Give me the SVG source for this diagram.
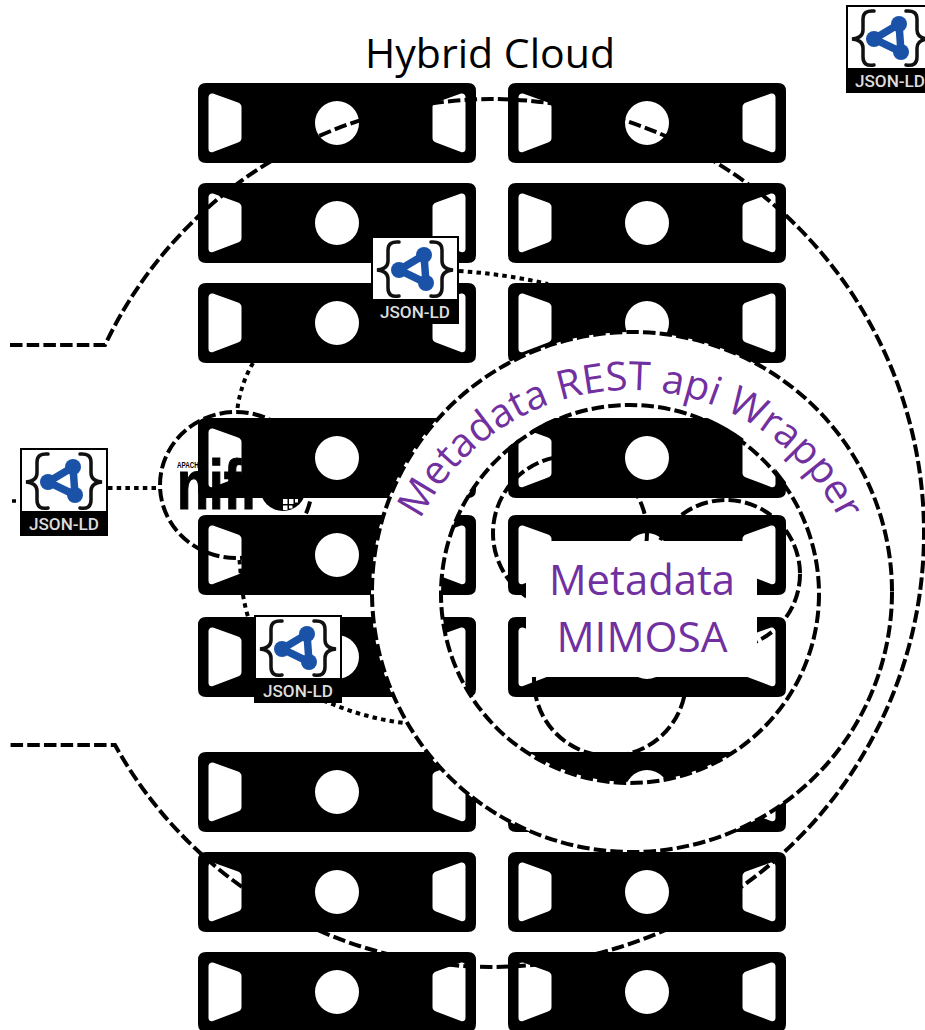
<svg xmlns="http://www.w3.org/2000/svg" xmlns:xlink="http://www.w3.org/1999/xlink" width="925" height="1030" viewBox="0 0 925 1030">
<style>
.dash{fill:none;stroke:#000;stroke-width:4;stroke-dasharray:12.500 4.200}
.dot{fill:none;stroke:#000;stroke-width:4;stroke-dasharray:4.500 4.200}
.purple{fill:#7030a0;font-family:"Open Sans","Noto Sans",sans-serif}
.jl{font-family:Roboto,"Liberation Sans",sans-serif;font-weight:500;font-size:16px;fill:#ddd;text-anchor:middle}
.br{fill:none;stroke:#111;stroke-width:3.500;stroke-linecap:round}
.ml{fill:none;stroke:#1a52a8;stroke-width:7.500}
.mc{fill:#1a52a8}
</style>
<defs>
<path id="srv" fill="#000" fill-rule="evenodd" d="M8,0H270Q278,0 278,8V72Q278,80 270,80H8Q0,80 0,72V8Q0,0 8,0ZM15,10.500L40,19.500Q43.500,21 43.500,24V55Q43.500,58 40,59.500L15,69Q11,70 10.500,66V14Q11,10 15,10.500ZM263,10.500L238,19.500Q234.500,21 234.500,24V55Q234.500,58 238,59.500L263,69Q267,70 267.500,66V14Q267,10 263,10.500ZM117,40a22,22 0 1 0 44,0a22,22 0 1 0 -44,0Z"/>
<g id="json">
<rect x="0.75" y="0.75" width="86.5" height="86.5" fill="#000" stroke="#000" stroke-width="1.5"/>
<rect x="2" y="2" width="84" height="61" fill="#fff"/>
<path class="br" d="M28,6Q17,5 17,14V25Q17,33 6,34Q17,35 17,43V52Q17,62 28,60"/>
<path class="br" d="M60,6Q71,5 71,14V25Q71,33 82,34Q71,35 71,43V52Q71,62 60,60"/>
<path class="ml" d="M28,34L53,19L55,47Z"/>
<circle class="mc" cx="28" cy="34" r="8"/><circle class="mc" cx="53" cy="19" r="8"/><circle class="mc" cx="55" cy="47" r="8"/>
<text class="jl" x="44" y="82" textLength="70" lengthAdjust="spacingAndGlyphs">JSON-LD</text>
</g>
</defs>
<rect width="925" height="1030" fill="#fff"/>
<text id="title" x="490" y="68" font-family="Open Sans,Noto Sans,sans-serif" font-size="40" text-anchor="middle" textLength="250" lengthAdjust="spacingAndGlyphs" fill="#000">Hybrid Cloud</text>
<g id="connectors">
<path class="dash" d="M10,345H105A430,430 0 0 1 490,99A434,434 0 0 1 924,533A434,434 0 0 1 490,967A432,432 0 0 1 115,745H10"/>
<path class="dot" d="M459,271Q505,274 548,284"/>
<path class="dot" d="M253,363Q240,385 237,412Q232,500 243,595Q248,625 262,650Q290,690 330,703Q365,718 404,723"/>
<path class="dot" d="M108,488H160"/>
<path d="M12,501H18" fill="none" stroke="#000" stroke-width="3.5" stroke-dasharray="4 2"/>
<circle class="dash" cx="570" cy="533" r="77"/>
<circle class="dash" cx="726" cy="574" r="74"/>
<circle class="dash" cx="610" cy="680" r="76"/>
</g>
<g id="nifi">
<ellipse cx="236" cy="485" rx="76" ry="73" fill="#fff" stroke="#000" stroke-width="4" stroke-dasharray="12.500 4.200"/>
<text x="177" y="468" font-family="Liberation Sans,sans-serif" font-weight="700" font-size="8.4" textLength="26" lengthAdjust="spacingAndGlyphs">APACHE</text>
<text transform="translate(177,509) scale(.75,1)" font-family="Liberation Sans,sans-serif" font-weight="700" font-size="70" stroke="#000" stroke-width="1.2">nifi</text>
<ellipse cx="283" cy="488" rx="23" ry="23" fill="#000"/>
<path fill="#fff" d="M283,499h4.500v5h-4.500zM289,499h4.500v5h-4.500zM295,499h3v3.500h-3zM283,505.500h4.500v4.500h-4.500zM289,505.500h3.500v3h-3.500z"/>
</g>
<g id="server-l1"><use href="#srv" x="198" y="83"/></g>
<g id="server-l2"><use href="#srv" x="198" y="183"/></g>
<g id="server-l3"><use href="#srv" x="198" y="283"/></g>
<g id="server-l4"><use href="#srv" x="198" y="418"/></g>
<g id="server-l5"><use href="#srv" x="198" y="515"/></g>
<g id="server-l6"><use href="#srv" x="198" y="617"/></g>
<g id="server-l7"><use href="#srv" x="198" y="752"/></g>
<g id="server-l8"><use href="#srv" x="198" y="852"/></g>
<g id="server-l9"><use href="#srv" x="198" y="952"/></g>
<g id="server-r1"><use href="#srv" x="508" y="83"/></g>
<g id="server-r2"><use href="#srv" x="508" y="183"/></g>
<g id="server-r3"><use href="#srv" x="508" y="283"/></g>
<g id="server-r4"><use href="#srv" x="508" y="418"/></g>
<g id="server-r5"><use href="#srv" x="508" y="515"/></g>
<g id="server-r6"><use href="#srv" x="508" y="617"/></g>
<g id="server-r7"><use href="#srv" x="508" y="752"/></g>
<g id="server-r8"><use href="#srv" x="508" y="852"/></g>
<g id="server-r9"><use href="#srv" x="508" y="952"/></g>
<g id="wrapper">
<circle cx="631" cy="592" r="225" fill="none" stroke="#fff" stroke-width="70"/>
<circle class="dash" cx="632" cy="592" r="260"/>
<circle class="dash" cx="630" cy="594" r="189"/>
<path id="arc" d="M396,624A234,234 0 0 1 864,624" fill="none"/>
<text class="purple" font-size="40"><textPath href="#arc" startOffset="108">Metadata REST api Wrapper</textPath></text>
</g>
<g id="metadata">
<rect x="526" y="541" width="231" height="136" fill="#fff"/>
<text class="purple" x="642" y="595" font-size="42" text-anchor="middle" textLength="186" lengthAdjust="spacingAndGlyphs">Metadata</text>
<text class="purple" x="642" y="652" font-size="42" text-anchor="middle" textLength="171" lengthAdjust="spacingAndGlyphs">MIMOSA</text>
</g>
<g id="json-ld-a"><use href="#json" x="371" y="236"/></g>
<g id="json-ld-b"><use href="#json" x="20" y="448"/></g>
<g id="json-ld-c"><use href="#json" x="254" y="615"/></g>
<g id="json-ld-d"><use href="#json" x="846" y="5"/></g>
</svg>
